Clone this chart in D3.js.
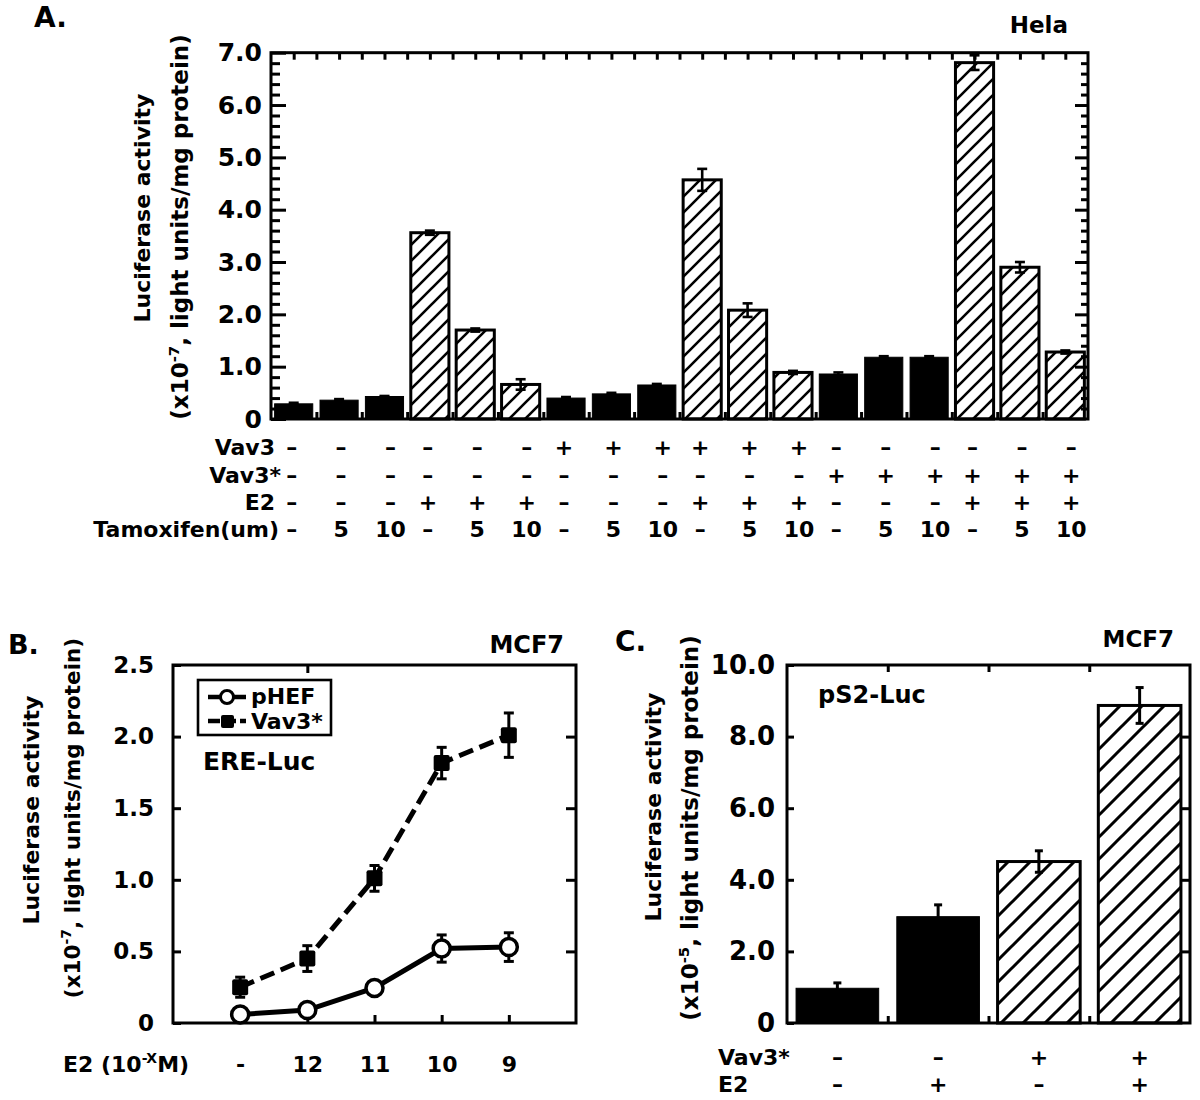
<!DOCTYPE html>
<html><head><meta charset="utf-8">
<script src="https://cdn.jsdelivr.net/npm/d3@7/dist/d3.min.js"></script>
<style>
html,body{margin:0;padding:0;background:#fff;}
svg text{font-family:"DejaVu Sans",sans-serif;font-weight:bold;fill:#000;}
</style></head>
<body>
<svg id="chart" width="1200" height="1100"></svg>
<script>
// ---------- Panel A data (Hela) ----------
const helaValues = [0.29,0.36,0.43,3.56,1.70,0.66,0.40,0.48,0.65,4.57,2.08,0.89,0.86,1.18,1.18,6.81,2.90,1.28];
const helaErrors = [0.02,0.02,0.01,0.04,0.03,0.10,0.02,0.02,0.02,0.21,0.13,0.03,0.03,0.02,0.02,0.14,0.10,0.03];
const rowVav3     = ['–','–','–','–','–','–','+','+','+','+','+','+','–','–','–','–','–','–'];
const rowVav3Star = ['–','–','–','–','–','–','–','–','–','–','–','–','+','+','+','+','+','+'];
const rowE2       = ['–','–','–','+','+','+','–','–','–','+','+','+','–','–','–','+','+','+'];
const rowTamox    = ['–','5','10','–','5','10','–','5','10','–','5','10','–','5','10','–','5','10'];
const rowLabelsA  = ['Vav3','Vav3*','E2','Tamoxifen(um)'];
const yTicksA     = [0,1,2,3,4,5,6,7];

// ---------- Panel B data (MCF7, ERE-Luc) ----------
const doseLabels  = ['-','12','11','10','9'];
const pHEFValues  = [0.06,0.09,0.245,0.52,0.53];
const pHEFErrors  = [0.01,0.03,0.03,0.095,0.10];
const vav3sValues = [0.25,0.45,1.01,1.815,2.01];
const vav3sErrors = [0.07,0.09,0.09,0.11,0.155];
const yTicksB     = [0,0.5,1.0,1.5,2.0,2.5];

// ---------- Panel C data (MCF7, pS2-Luc) ----------
const pS2Values   = [0.97,2.97,4.51,8.87];
const pS2Errors   = [0.15,0.33,0.30,0.50];
const rowCVav3Star= ['–','–','+','+'];
const rowCE2      = ['–','+','–','+'];
const yTicksC     = [0,2,4,6,8,10];

const svg = d3.select('#chart');
const defs = svg.append('defs');
function hatch(id, s, w){
  defs.append('pattern').attr('id',id).attr('patternUnits','userSpaceOnUse')
    .attr('width',s).attr('height',s)
    .append('path').attr('d',`M-2,2 l4,-4 M0,${s} l${s},${-s} M${s-2},${s+2} l4,-4`)
    .attr('stroke','#000').attr('stroke-width',w).attr('fill','none');
}
hatch('hatchA',16,2.6);
hatch('hatchC',22,3);

function frame(g,x0,x1,y0,y1){
  g.append('rect').attr('x',x0).attr('y',y1).attr('width',x1-x0).attr('height',y0-y1)
   .attr('fill','none').attr('stroke','#000').attr('stroke-width',3);
}
function styleAxis(sel){
  sel.select('.domain').remove();
  sel.selectAll('line').attr('stroke','#000').attr('stroke-width',3);
  sel.selectAll('text').attr('fill','#000').style('font-family','"DejaVu Sans",sans-serif').style('font-weight','bold');
}
function errBar(g, x, yLo, yHi, cap, w){
  g.append('line').attr('x1',x).attr('x2',x).attr('y1',yLo).attr('y2',yHi).attr('stroke','#000').attr('stroke-width',w);
  g.append('line').attr('x1',x-cap/2).attr('x2',x+cap/2).attr('y1',yHi).attr('y2',yHi).attr('stroke','#000').attr('stroke-width',w);
  g.append('line').attr('x1',x-cap/2).attr('x2',x+cap/2).attr('y1',yLo).attr('y2',yLo).attr('stroke','#000').attr('stroke-width',w);
}
function yTitle(g, x1, x2, cy1, cy2, size1, size2, expo){
  g.append('text').attr('transform',`translate(${x1},${cy1}) rotate(-90)`).attr('text-anchor','middle')
    .style('font-size',size1+'px').text('Luciferase activity');
  const t = g.append('text').attr('transform',`translate(${x2},${cy2}) rotate(-90)`).attr('text-anchor','middle')
    .style('font-size',size2+'px');
  t.append('tspan').text('(x10');
  t.append('tspan').attr('dy',-9).style('font-size',(size2*0.65)+'px').text(expo);
  t.append('tspan').attr('dy',9).text(', light units/mg protein)');
}

// =================== PANEL A ===================
const gA = svg.append('g');
const xA = d3.scaleBand().domain(d3.range(helaValues.length)).range([271,1088]).paddingInner(0.16).paddingOuter(0.08);
const yA = d3.scaleLinear().domain([0,7]).range([419,52.7]);
const stepA = xA.step();

gA.selectAll('rect.bar').data(helaValues).join('rect').attr('class','bar')
  .attr('x',(d,i)=>xA(i)).attr('width',xA.bandwidth())
  .attr('y',d=>yA(d)).attr('height',d=>yA(0)-yA(d))
  .attr('fill',(d,i)=>rowE2[i]==='+'?'url(#hatchA)':'#000')
  .attr('stroke','#000').attr('stroke-width',(d,i)=>rowE2[i]==='+'?3:1);
helaValues.forEach((v,i)=>{
  errBar(gA, xA(i)+xA.bandwidth()/2, yA(v-helaErrors[i]), yA(v+helaErrors[i]), 10, 2.6);
});

// axes A
const minorA = d3.range(0,7.001,0.2).filter(v=>Math.abs(v-Math.round(v))>1e-6);
gA.append('g').attr('transform','translate(271,0)')
  .call(d3.axisLeft(yA).tickValues(yTicksA).tickSizeInner(-15).tickSizeOuter(0).tickPadding(9).tickFormat(d=>d===0?'0':d.toFixed(1)))
  .call(styleAxis).call(s=>s.selectAll('text').style('font-size','25px'));
gA.append('g').attr('transform','translate(271,0)')
  .call(d3.axisLeft(yA).tickValues(minorA).tickSizeInner(-9).tickSizeOuter(0).tickFormat(''))
  .call(styleAxis);
gA.append('g').attr('transform','translate(1088,0)')
  .call(d3.axisRight(yA).tickValues(yTicksA.slice(1,-1)).tickSizeInner(-13).tickSizeOuter(0).tickFormat(''))
  .call(styleAxis);
gA.append('g').attr('transform','translate(1088,0)')
  .call(d3.axisRight(yA).tickValues(minorA).tickSizeInner(-7).tickSizeOuter(0).tickFormat(''))
  .call(styleAxis);
// top ticks at band centres and boundaries, bottom ticks at boundaries
const boundsA = d3.range(1,helaValues.length).map(i=>xA(i)-stepA*xA.paddingInner()/2);
const centresA = d3.range(helaValues.length).map(i=>xA(i)+xA.bandwidth()/2);
const posScaleA = d3.scaleLinear().domain([271,1088]).range([271,1088]);
gA.append('g').attr('transform',`translate(0,${yA(7)})`)
  .call(d3.axisTop(posScaleA).tickValues(boundsA.concat(centresA)).tickSizeInner(-7).tickSizeOuter(0).tickFormat(''))
  .call(styleAxis);
gA.append('g').attr('transform',`translate(0,${yA(0)})`)
  .call(d3.axisBottom(posScaleA).tickValues(boundsA).tickSizeInner(-7).tickSizeOuter(0).tickFormat(''))
  .call(styleAxis);
frame(gA,271,1088,yA(0),yA(7));

gA.append('text').attr('x',34).attr('y',27).style('font-size','28px').text('A.');
gA.append('text').attr('x',1068).attr('y',33).attr('text-anchor','end').style('font-size','23px').text('Hela');
yTitle(gA,150,188,208,227,22,23,'-7');

// table A
const rowsA = [rowVav3,rowVav3Star,rowE2,rowTamox];
const rowBaseA = [455,483,510,537];
const offA = [-2,2,6];
rowsA.forEach((row,r)=>{
  gA.append('text').attr('x',r===3?279:(r===1?281:275)).attr('y',rowBaseA[r]).attr('text-anchor','end')
    .style('font-size','22px').text(rowLabelsA[r]);
  gA.selectAll(null).data(row).join('text')
    .attr('x',(d,i)=>centresA[i]+offA[i%3]).attr('y',rowBaseA[r]).attr('text-anchor','middle')
    .style('font-size','22px').text(d=>d);
});

// =================== PANEL B ===================
const gB = svg.append('g');
const xB = d3.scalePoint().domain(doseLabels).range([173,576]).padding(1);
const yB = d3.scaleLinear().domain([0,2.5]).range([1023,665]);

gB.append('g').attr('transform','translate(173,0)')
  .call(d3.axisLeft(yB).tickValues(yTicksB).tickSizeInner(-8).tickSizeOuter(0).tickPadding(19).tickFormat(d=>d===0?'0':d.toFixed(1)))
  .call(styleAxis).call(s=>s.selectAll('text').style('font-size','23px'));
gB.append('g').attr('transform','translate(576,0)')
  .call(d3.axisRight(yB).tickValues(yTicksB.slice(1,-1)).tickSizeInner(-10).tickSizeOuter(0).tickFormat(''))
  .call(styleAxis);
gB.append('g').attr('transform','translate(0,1023)')
  .call(d3.axisBottom(xB).tickSizeInner(-8).tickSizeOuter(0).tickPadding(30))
  .call(styleAxis).call(s=>s.selectAll('text').style('font-size','22px').attr('dy',null).attr('y',49));
gB.append('g').attr('transform','translate(0,665)')
  .call(d3.axisTop(xB).tickValues(['12']).tickSizeInner(-8).tickSizeOuter(0).tickFormat(''))
  .call(styleAxis);
frame(gB,173,576,1023,665);

const lineB = d3.line().x((d,i)=>xB(doseLabels[i])).y(d=>yB(d));
gB.append('path').datum(vav3sValues).attr('d',lineB).attr('fill','none').attr('stroke','#000')
  .attr('stroke-width',5).attr('stroke-dasharray','15,7');
gB.append('path').datum(pHEFValues).attr('d',lineB).attr('fill','none').attr('stroke','#000').attr('stroke-width',5);
vav3sValues.forEach((v,i)=>errBar(gB,xB(doseLabels[i]),yB(v-vav3sErrors[i]),yB(v+vav3sErrors[i]),10,3));
pHEFValues.forEach((v,i)=>errBar(gB,xB(doseLabels[i]),yB(v-pHEFErrors[i]),yB(v+pHEFErrors[i]),10,3));
gB.selectAll('rect.sq').data(vav3sValues).join('rect').attr('class','sq')
  .attr('x',(d,i)=>xB(doseLabels[i])-8).attr('y',d=>yB(d)-8).attr('width',16).attr('height',16)
  .attr('rx',2).attr('fill','#000');
gB.selectAll('circle.ci').data(pHEFValues).join('circle').attr('class','ci')
  .attr('cx',(d,i)=>xB(doseLabels[i])).attr('cy',d=>yB(d)).attr('r',8.5)
  .attr('fill','#fff').attr('stroke','#000').attr('stroke-width',3.5);

// legend B
gB.append('rect').attr('x',198).attr('y',680).attr('width',133).attr('height',55)
  .attr('fill','#fff').attr('stroke','#000').attr('stroke-width',2.6);
gB.append('line').attr('x1',208).attr('x2',246).attr('y1',697).attr('y2',697).attr('stroke','#000').attr('stroke-width',4.5);
gB.append('circle').attr('cx',227).attr('cy',697).attr('r',6.5).attr('fill','#fff').attr('stroke','#000').attr('stroke-width',3);
gB.append('line').attr('x1',208).attr('x2',246).attr('y1',721).attr('y2',721).attr('stroke','#000').attr('stroke-width',4.5).attr('stroke-dasharray','12,4');
gB.append('rect').attr('x',221).attr('y',715).attr('width',13).attr('height',13).attr('rx',2).attr('fill','#000');
gB.append('text').attr('x',251).attr('y',704).style('font-size','22px').text('pHEF');
gB.append('text').attr('x',251).attr('y',729).style('font-size','22px').text('Vav3*');

gB.append('text').attr('x',203).attr('y',770).style('font-size','25px').text('ERE-Luc');
gB.append('text').attr('x',564).attr('y',653).attr('text-anchor','end').style('font-size','24px').text('MCF7');
gB.append('text').attr('x',8).attr('y',654).style('font-size','27px').text('B.');
yTitle(gB,39,80,810,818,22,21.5,'-7');
const xl = gB.append('text').attr('x',63).attr('y',1072).style('font-size','22px');
xl.append('tspan').text('E2 (10');
xl.append('tspan').attr('dy',-9).style('font-size','14px').text('-X');
xl.append('tspan').attr('dy',9).text('M)');

// =================== PANEL C ===================
const gC = svg.append('g');
const xC = d3.scaleBand().domain(d3.range(pS2Values.length)).range([787,1190]).paddingInner(0.18).paddingOuter(0.09);
const yC = d3.scaleLinear().domain([0,10]).range([1023,665]);
gC.selectAll('rect.bar').data(pS2Values).join('rect').attr('class','bar')
  .attr('x',(d,i)=>xC(i)).attr('width',xC.bandwidth())
  .attr('y',d=>yC(d)).attr('height',d=>yC(0)-yC(d))
  .attr('fill',(d,i)=>rowCVav3Star[i]==='+'?'url(#hatchC)':'#000')
  .attr('stroke','#000').attr('stroke-width',(d,i)=>rowCVav3Star[i]==='+'?3:1);
pS2Values.forEach((v,i)=>errBar(gC,xC(i)+xC.bandwidth()/2,yC(v-pS2Errors[i]),yC(v+pS2Errors[i]),8,3));

gC.append('g').attr('transform','translate(787,0)')
  .call(d3.axisLeft(yC).tickValues(yTicksC).tickSizeInner(-7).tickSizeOuter(0).tickPadding(12).tickFormat(d=>d===0?'0':d.toFixed(1)))
  .call(styleAxis).call(s=>s.selectAll('text').style('font-size','26px'));
gC.append('g').attr('transform','translate(1190,0)')
  .call(d3.axisRight(yC).tickValues(yTicksC.slice(1,-1)).tickSizeInner(-8).tickSizeOuter(0).tickFormat(''))
  .call(styleAxis);
const stepC = xC.step();
const boundsC = d3.range(1,pS2Values.length).map(i=>xC(i)-stepC*xC.paddingInner()/2);
const posScaleC = d3.scaleLinear().domain([787,1190]).range([787,1190]);
gC.append('g').attr('transform','translate(0,665)')
  .call(d3.axisTop(posScaleC).tickValues(boundsC).tickSizeInner(-7).tickSizeOuter(0).tickFormat(''))
  .call(styleAxis);
gC.append('g').attr('transform','translate(0,1023)')
  .call(d3.axisBottom(posScaleC).tickValues(boundsC).tickSizeInner(-7).tickSizeOuter(0).tickFormat(''))
  .call(styleAxis);
frame(gC,787,1190,1023,665);

gC.append('text').attr('x',615).attr('y',651).style('font-size','28px').text('C.');
gC.append('text').attr('x',1174).attr('y',647).attr('text-anchor','end').style('font-size','23px').text('MCF7');
gC.append('text').attr('x',818).attr('y',703).style('font-size','24px').text('pS2-Luc');
yTitle(gC,661,698,807,828,22,23,'-5');

const rowsC = [rowCVav3Star,rowCE2];
const rowLabelsC = ['Vav3*','E2'];
const rowBaseC = [1065,1092];
rowsC.forEach((row,r)=>{
  gC.append('text').attr('x',718).attr('y',rowBaseC[r]).style('font-size','22px').text(rowLabelsC[r]);
  gC.selectAll(null).data(row).join('text')
    .attr('x',(d,i)=>xC(i)+xC.bandwidth()/2).attr('y',rowBaseC[r]).attr('text-anchor','middle')
    .style('font-size','22px').text(d=>d);
});
</script>
</body></html>
